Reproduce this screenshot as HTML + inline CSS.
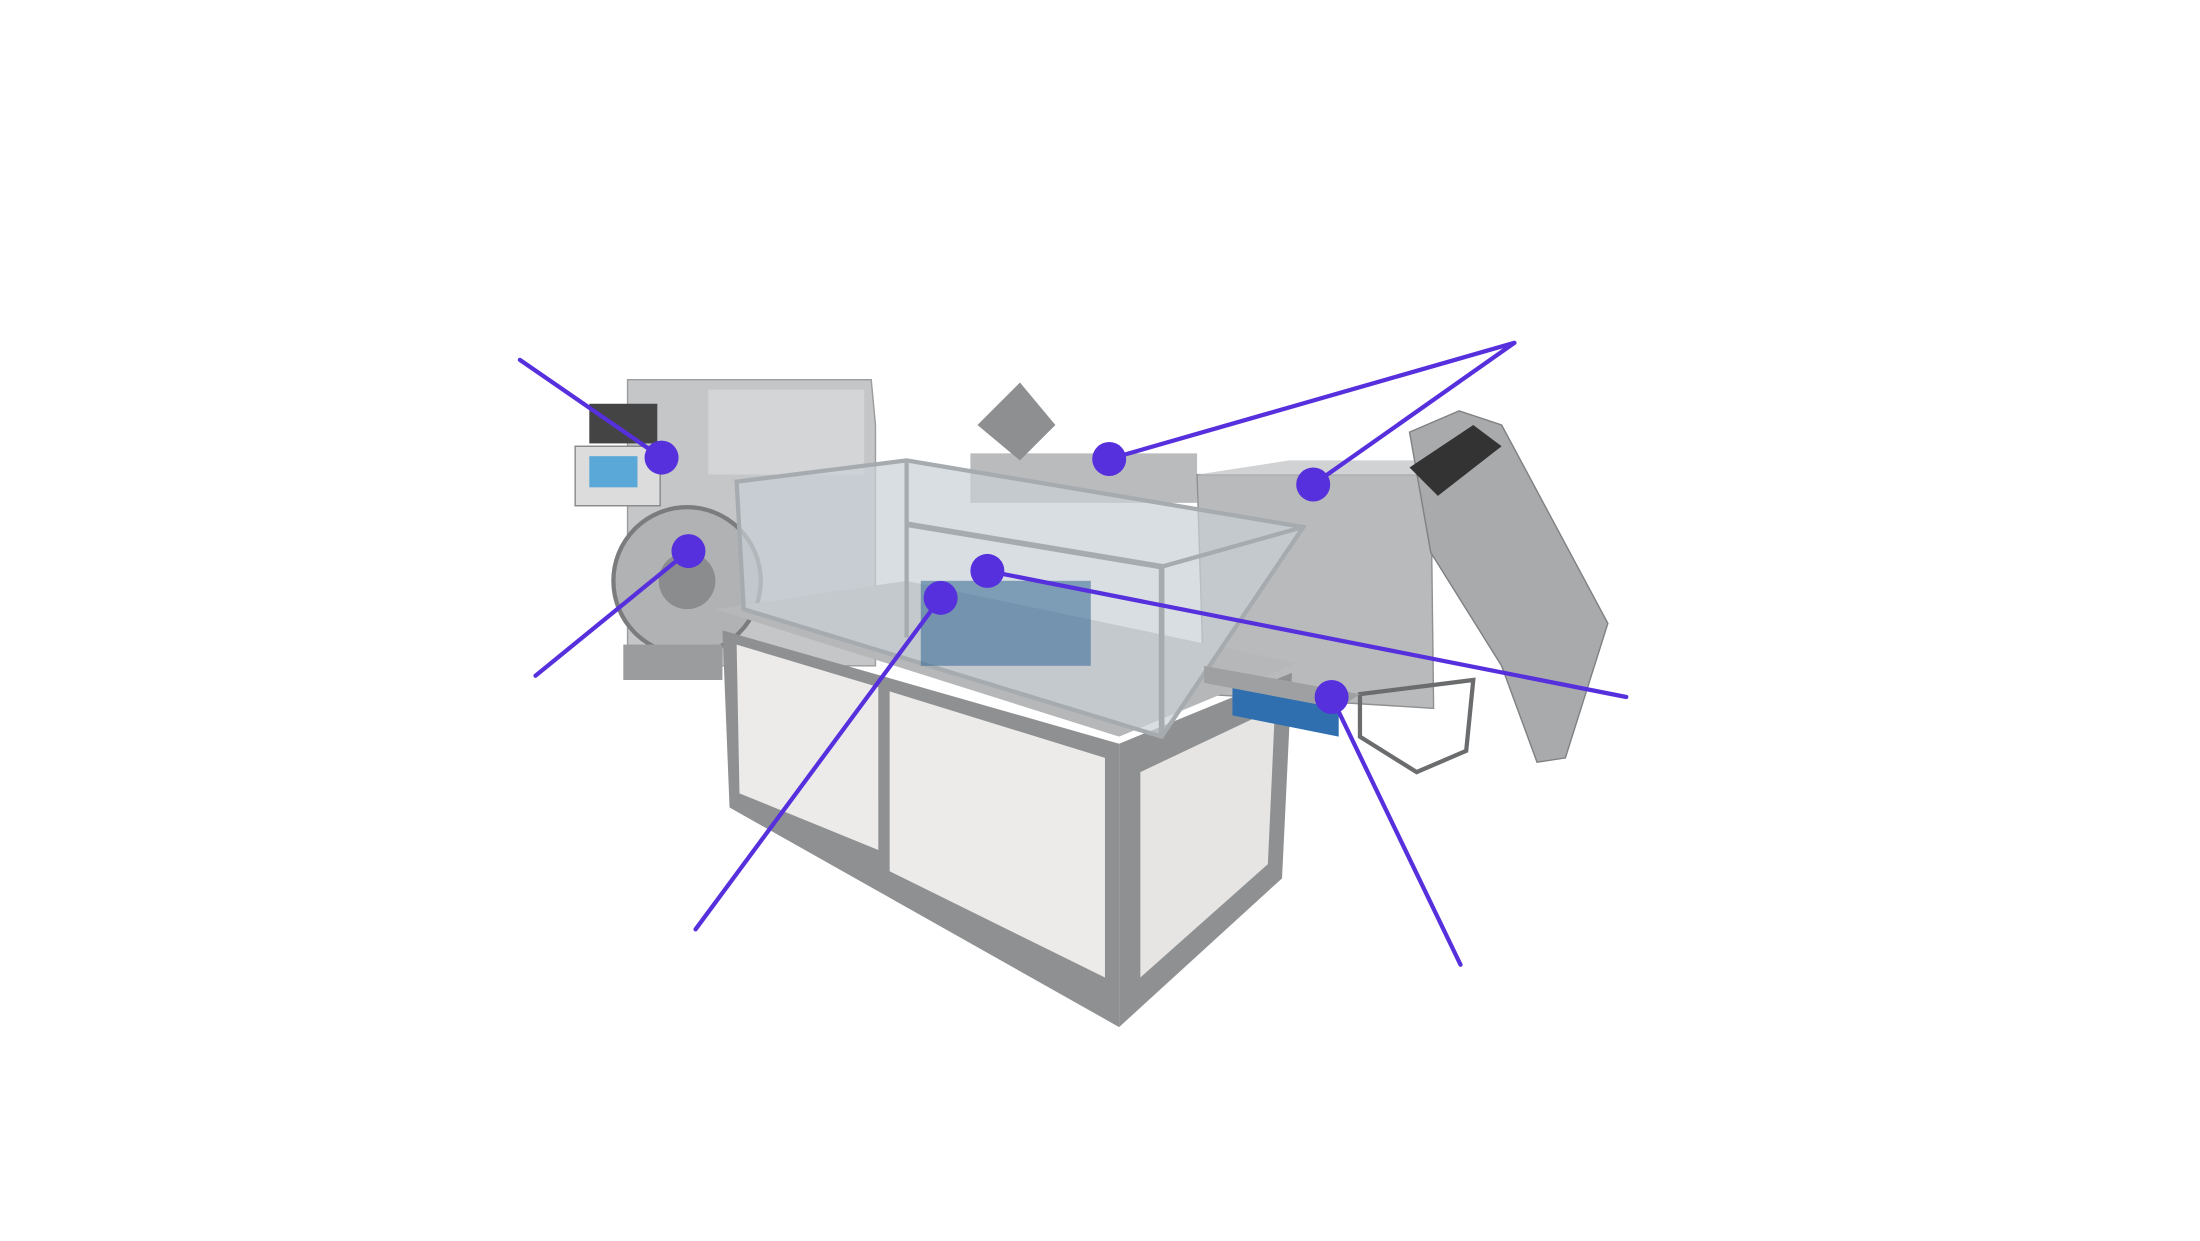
<!DOCTYPE html>
<html><head><meta charset="utf-8"><style>
html,body{margin:0;padding:0;background:#fff;}
svg{display:block}
</style></head><body>
<svg width="2200" height="1241" viewBox="0 0 1553 876" xmlns="http://www.w3.org/2000/svg">
<rect width="1553" height="876" fill="#fff"/>
<!-- back-left unit -->
<polygon points="443,268 615,268 618,300 618,470 443,470" fill="#c4c6c8" stroke="#9a9c9e"/>
<rect x="500" y="275" width="110" height="60" fill="#d3d5d7"/>
<rect x="416" y="285" width="48" height="28" fill="#444"/>
<rect x="406" y="315" width="60" height="42" fill="#dcdcdc" stroke="#888"/>
<rect x="416" y="322" width="34" height="22" fill="#5aa8d8"/>
<circle cx="485" cy="410" r="52" fill="#b0b2b4" stroke="#7a7c7e" stroke-width="3"/>
<circle cx="485" cy="410" r="20" fill="#8a8c8e"/>
<rect x="440" y="455" width="70" height="25" fill="#9a9c9e"/>
<!-- top back box -->
<polygon points="685,320 845,320 845,355 685,355" fill="#b9bbbd"/>
<polygon points="690,300 720,270 745,300 720,325" fill="#8d8f91"/>
<!-- right unit -->
<polygon points="845,335 1010,335 1012,500 850,490" fill="#b8babc" stroke="#8f9193"/>
<polygon points="845,335 910,325 1015,325 1010,335" fill="#d0d2d4"/>
<polygon points="960,490 1040,480 1035,530 1000,545 960,520" fill="none" stroke="#6a6c6e" stroke-width="3"/>
<!-- incline conveyor -->
<polygon points="995,305 1030,290 1060,300 1135,440 1105,535 1085,538 1060,470 1010,390" fill="#a8aaac" stroke="#7f8183"/>
<polygon points="995,330 1040,300 1060,315 1015,350" fill="#333"/>
<!-- cabinet -->
<polygon points="505,430 640,410 915,468 790,520" fill="#b5b7b9"/>
<polygon points="510,445 790,525 790,725 515,570" fill="#8e9092"/>
<polygon points="520,455 620,485 620,600 522,560" fill="#ecebea"/>
<polygon points="628,488 780,535 780,690 628,615" fill="#ecebea"/>
<polygon points="790,525 912,475 905,620 790,725" fill="#8e9092"/>
<polygon points="805,545 900,500 895,610 805,690" fill="#e6e5e4"/>
<!-- glass enclosure -->
<polygon points="520,340 640,325 920,372 820,520 525,430" fill="#c9d0d6" fill-opacity="0.7" stroke="#a6abb0" stroke-width="3"/>
<polyline points="640,325 640,450" stroke="#a6abb0" stroke-width="3" fill="none"/>
<polyline points="640,370 820,400 820,520" stroke="#a6abb0" stroke-width="4" fill="none"/>
<polyline points="820,400 920,372" stroke="#a6abb0" stroke-width="3" fill="none"/>
<rect x="650" y="410" width="120" height="60" fill="#3f6f9a" opacity="0.6"/>
<polygon points="870,480 945,490 945,520 870,505" fill="#2f6fb0"/>
<polygon points="850,470 960,490 945,500 850,482" fill="#9ea0a2"/>
<!-- callouts -->
<g stroke="#5630dd" stroke-width="3" fill="none" stroke-linecap="round">
<line x1="367" y1="254" x2="467" y2="323"/>
<line x1="378" y1="477" x2="486" y2="389"/>
<line x1="1069" y1="242" x2="783" y2="324"/>
<line x1="1069" y1="242" x2="927" y2="342"/>
<line x1="697" y1="403" x2="1148" y2="492"/>
<line x1="664" y1="422" x2="491" y2="656"/>
<line x1="940" y1="492" x2="1031" y2="681"/>
</g>
<g fill="#5630dd">
<circle cx="467" cy="323" r="12"/>
<circle cx="486" cy="389" r="12"/>
<circle cx="783" cy="324" r="12"/>
<circle cx="927" cy="342" r="12"/>
<circle cx="697" cy="403" r="12"/>
<circle cx="664" cy="422" r="12"/>
<circle cx="940" cy="492" r="12"/>
</g>
</svg>
</body></html>
